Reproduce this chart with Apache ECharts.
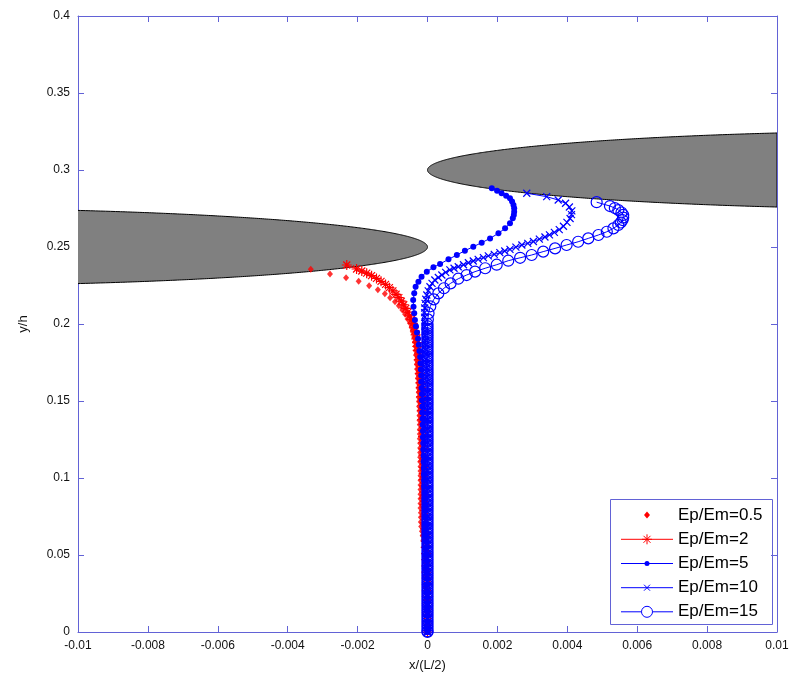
<!DOCTYPE html>
<html>
<head>
<meta charset="utf-8">
<script src="https://cdn.jsdelivr.net/npm/echarts@6/dist/echarts.min.js"></script>
<style>
html, body { margin: 0; padding: 0; background: #fff; }
#chart { width: 793px; height: 679px; }
</style>
</head>
<body>
<div id="chart"></div>
<script>
// ---- axes ----
const xRange = [-0.01, 0.01];
const xStep = 0.002;
const yRange = [0, 0.4];
const yStep = 0.05;
const xTitle = 'x/(L/2)';
const yTitle = 'y/h';

// ---- series names ----
const seriesNames = ['Ep/Em=0.5', 'Ep/Em=2', 'Ep/Em=5', 'Ep/Em=10', 'Ep/Em=15'];

// ---- the two elliptical cracks (centre, half length, half opening) ----
const crackCenterX = [-0.015, 0.015];
const crackCenterY = [0.25, 0.30];
const crackHalfLength = [0.015, 0.015];
const crackHalfOpening = [0.0252, 0.0255];

// ---- crack paths [x, y] ----
const ep05 = [
  [-0.00334,0.2355],[-0.00279,0.2325],[-0.00233,0.2301],[-0.00197,0.2277],[-0.00167,0.2249],[-0.00142,0.2223],
  [-0.00122,0.2197],[-0.00107,0.2171],[-0.00093,0.2145],[-0.00082,0.2119],[-0.00072,0.2091],[-0.00064,0.2063],
  [-0.00057,0.2032],[-0.00050,0.2005],[-0.00045,0.1976],[-0.00041,0.1946],[-0.00038,0.1915],[-0.00036,0.1885],
  [-0.00035,0.1855],[-0.00033,0.1825],[-0.00032,0.1795],[-0.00031,0.1765],[-0.00030,0.1735],[-0.00029,0.1705],
  [-0.00028,0.1675],[-0.00027,0.1645],[-0.00026,0.1615],[-0.00026,0.1585],[-0.00025,0.1555],[-0.00025,0.1525],
  [-0.00024,0.1495],[-0.00024,0.1465],[-0.00023,0.1435],[-0.00023,0.1405],[-0.00023,0.1375],[-0.00022,0.1345],
  [-0.00022,0.1315],[-0.00022,0.1285],[-0.00022,0.1255],[-0.00021,0.1225],[-0.00021,0.1195],[-0.00021,0.1165],
  [-0.00021,0.1135],[-0.00021,0.1105],[-0.00020,0.1075],[-0.00020,0.1045],[-0.00020,0.1015],[-0.00020,0.0985],
  [-0.00020,0.0955],[-0.00020,0.0925],[-0.00020,0.0895],[-0.00020,0.0865],[-0.00020,0.0835],[-0.00020,0.0805],
  [-0.00019,0.0775],[-0.00019,0.0745],[-0.00019,0.0715],[-0.00018,0.0685],[-0.00016,0.0655],[-0.00014,0.0625],
  [-0.00012,0.0595],[-0.00010,0.0550],[-0.00008,0.0500],[-0.00006,0.0450],[-0.00005,0.0400],[-0.00004,0.0350],
  [-0.00003,0.0300],[-0.00002,0.0250],[-0.00002,0.0200],[-0.00001,0.0150],[-0.00001,0.0100],[0,0.0050],[0,0]
];

const ep2 = [
  [-0.00231,0.2383],[-0.00203,0.2357],[-0.00188,0.2344],[-0.00174,0.2330],[-0.00160,0.2314],[-0.00146,0.2296],
  [-0.00133,0.2277],[-0.00120,0.2257],[-0.00109,0.2236],[-0.00099,0.2215],[-0.00090,0.2193],[-0.00082,0.2171],
  [-0.00075,0.2148],[-0.00068,0.2125],[-0.00062,0.2101],[-0.00056,0.2077],[-0.00051,0.2053],[-0.00046,0.2029],
  [-0.00042,0.2004],[-0.00039,0.1979],[-0.00036,0.1954],[-0.00034,0.1929],[-0.00032,0.1904],[-0.00030,0.1879],
  [-0.00029,0.1854],[-0.00028,0.1829],[-0.00026,0.1799],[-0.00025,0.1769],[-0.00024,0.1739],[-0.00023,0.1709],
  [-0.00022,0.1679],[-0.00021,0.1649],[-0.00020,0.1619],[-0.00019,0.1589],[-0.00018,0.1559],[-0.00018,0.1529],
  [-0.00017,0.1499],[-0.00016,0.1469],[-0.00016,0.1439],[-0.00015,0.1409],[-0.00015,0.1379],[-0.00014,0.1349],
  [-0.00014,0.1309],[-0.00013,0.1269],[-0.00013,0.1229],[-0.00012,0.1189],[-0.00012,0.1149],[-0.00012,0.1109],
  [-0.00011,0.1069],[-0.00011,0.1029],[-0.00011,0.0989],[-0.00010,0.0949],[-0.00010,0.0909],[-0.00010,0.0869],
  [-0.00009,0.0829],[-0.00009,0.0789],[-0.00008,0.0749],[-0.00008,0.0709],[-0.00007,0.0669],[-0.00006,0.0629],
  [-0.00005,0.0589],[-0.00005,0.0549],[-0.00004,0.0509],[-0.00004,0.0469],[-0.00003,0.0429],[-0.00003,0.0389],
  [-0.00002,0.0349],[-0.00002,0.0309],[-0.00002,0.0269],[-0.00001,0.0229],[-0.00001,0.0189],[-0.00001,0.0149],
  [0,0.0109],[0,0.0069],[0,0.0029],[0,0]
];

const ep5 = [
  [0.00184,0.2881],[0.00199,0.2866],[0.00212,0.2849],[0.00225,0.2833],[0.00236,0.2816],[0.00242,0.2795],
  [0.00246,0.2773],[0.00248,0.2751],[0.00248,0.2729],[0.00247,0.2707],[0.00244,0.2686],[0.00236,0.2654],
  [0.00222,0.2621],[0.00203,0.2589],[0.00179,0.2556],[0.00155,0.2528],[0.00131,0.2502],[0.00107,0.2476],
  [0.00084,0.2448],[0.00060,0.2420],[0.00036,0.2390],[0.00017,0.2368],[-0.00002,0.2340],[-0.00017,0.2307],
  [-0.00026,0.2275],[-0.00034,0.2242],[-0.00038,0.2199],[-0.00041,0.2156],[-0.00040,0.2112],[-0.00038,0.2069],
  [-0.00036,0.2026],[-0.00033,0.1985],[-0.00030,0.1945],[-0.00027,0.1905],[-0.00025,0.1865],[-0.00023,0.1825],
  [-0.00021,0.1785],[-0.00020,0.1745],[-0.00019,0.1705],[-0.00018,0.1665],[-0.00018,0.1625],[-0.00017,0.1585],
  [-0.00016,0.1545],[-0.00016,0.1505],[-0.00015,0.1465],[-0.00015,0.1425],[-0.00014,0.1385],[-0.00014,0.1345],
  [-0.00013,0.1305],[-0.00013,0.1265],[-0.00012,0.1225],[-0.00012,0.1185],[-0.00011,0.1145],[-0.00011,0.1105],
  [-0.00010,0.1065],[-0.00010,0.1025],[-0.00009,0.0985],[-0.00009,0.0945],[-0.00008,0.0905],[-0.00008,0.0865],
  [-0.00007,0.0825],[-0.00007,0.0785],[-0.00006,0.0745],[-0.00006,0.0705],[-0.00005,0.0665],[-0.00005,0.0625],
  [-0.00004,0.0585],[-0.00004,0.0545],[-0.00003,0.0505],[-0.00003,0.0465],[-0.00003,0.0425],[-0.00002,0.0385],
  [-0.00002,0.0345],[-0.00002,0.0305],[-0.00001,0.0265],[-0.00001,0.0225],[-0.00001,0.0185],[-0.00001,0.0145],
  [0,0.0105],[0,0.0065],[0,0.0025],[0,0]
];

const ep10Branch = [
  [0.00284,0.2849],[0.00341,0.2827],[0.00374,0.2805],[0.00395,0.2784],[0.00406,0.2760],[0.00413,0.2735],
  [0.00412,0.2710],[0.00408,0.2685],[0.00399,0.2660],[0.00389,0.2635],[0.00377,0.2613],[0.00363,0.2595],
  [0.00349,0.2579],[0.00336,0.2565],[0.00320,0.2551],[0.00303,0.2536],[0.00287,0.2524],[0.00270,0.2513],
  [0.00253,0.2499],[0.00236,0.2485],[0.00221,0.2474],[0.00207,0.2463],[0.00191,0.2452],[0.00174,0.2442],
  [0.00160,0.2431],[0.00145,0.2420],[0.00131,0.2409],[0.00117,0.2398],[0.00103,0.2385],[0.00088,0.2372],
  [0.00076,0.2362],[0.00064,0.2351],[0.00052,0.2335],[0.00041,0.2318],[0.00031,0.2302],[0.00021,0.2286],
  [0.00013,0.2264],[0.00007,0.2242],[0.00002,0.2215],[-0.00002,0.2188],[-0.00005,0.2161],[-0.00007,0.2134],
  [-0.00008,0.2104],[-0.00008,0.2074],[-0.00008,0.2044],[-0.00007,0.2014],[-0.00007,0.1984],[-0.00007,0.1954],
  [-0.00006,0.1924],[-0.00006,0.1894],[-0.00005,0.1864],[-0.00005,0.1834],[-0.00004,0.1804],[-0.00004,0.1774],
  [-0.00003,0.1744],[-0.00003,0.1714],[-0.00002,0.1684],[-0.00002,0.1654],[-0.00001,0.1624]
];
// straight part along x = 0
const ep10StemY = [
  0.159,0.156,0.153,0.150,0.147,0.144,0.141,0.138,0.135,0.132,0.129,0.126,0.123,0.120,0.117,0.114,0.111,0.108,
  0.105,0.102,0.099,0.096,0.093,0.090,0.087,0.084,0.081,0.078,0.075,0.072,0.069,0.066,0.063,0.060,0.057,0.054,
  0.051,0.048,0.045,0.042,0.039,0.036,0.033,0.030,0.027,0.024,0.021,0.018,0.015,0.012,0.009,0.006,0.003,0
];

const ep15Branch = [
  [0.00484,0.2791],[0.00522,0.2766],[0.00536,0.2753],[0.00546,0.2740],[0.00555,0.2724],[0.00560,0.2708],
  [0.00560,0.2691],[0.00558,0.2675],[0.00553,0.2659],[0.00546,0.2643],[0.00532,0.2621],[0.00513,0.2599],
  [0.00489,0.2578],[0.00460,0.2556],[0.00431,0.2534],[0.00398,0.2513],[0.00365,0.2491],[0.00331,0.2470],
  [0.00298,0.2448],[0.00265,0.2430],[0.00231,0.2411],[0.00198,0.2385],[0.00165,0.2362],[0.00136,0.2340],
  [0.00112,0.2318],[0.00088,0.2294],[0.00066,0.2264],[0.00047,0.2232],[0.00031,0.2199],[0.00018,0.2160],
  [0.00008,0.2115],[0.00003,0.2070],[0.00001,0.2030]
];
// straight part along x = 0
const ep15StemY = [
  0.2000,0.1985,0.1970,0.1955,0.1940,0.1925,0.1910,0.1895,0.1880,0.1865,0.1850,0.1835,0.1820,0.1805,0.1790,
  0.1775,0.1760,0.1745,0.1730,0.1715,0.1700,0.1685,0.1670,0.1655,0.1640,0.1625,0.1610,0.1595,0.1580,0.1565,
  0.1550,0.1535,0.1520,0.1505,0.1490,0.1475,0.1460,0.1445,0.1430,0.1415,0.1400,0.1385,0.1370,0.1355,0.1340,
  0.1325,0.1310,0.1295,0.1280,0.1265,0.1250,0.1235,0.1220,0.1205,0.1190,0.1175,0.1160,0.1145,0.1130,0.1115,
  0.1100,0.1085,0.1070,0.1055,0.1040,0.1025,0.1010,0.0995,0.0980,0.0965,0.0950,0.0935,0.0920,0.0905,0.0890,
  0.0875,0.0860,0.0845,0.0830,0.0815,0.0800,0.0785,0.0770,0.0755,0.0740,0.0725,0.0710,0.0695,0.0680,0.0665,
  0.0650,0.0635,0.0620,0.0605,0.0590,0.0575,0.0560,0.0545,0.0530,0.0515,0.0500,0.0485,0.0470,0.0455,0.0440,
  0.0425,0.0410,0.0395,0.0380,0.0365,0.0350,0.0335,0.0320,0.0305,0.0290,0.0275,0.0260,0.0245,0.0230,0.0215,
  0.0200,0.0185,0.0170,0.0155,0.0140,0.0125,0.0110,0.0095,0.0080,0.0065,0.0050,0.0035,0.0020,0.0005,0
];

// ---- styling ----
const RED = '#ff0000';
const BLUE = '#0000ff';
const AXIS_COLOR = '#6262d6';
const FONT = '"Liberation Sans", Arial, Helvetica, sans-serif';
const ASTERISK = 'path://M0,5L10,5M5,0L5,10M1.5,1.5L8.5,8.5M8.5,1.5L1.5,8.5';
const CROSS = 'path://M0,0L10,10M10,0L0,10';

const ep10 = ep10Branch.concat(ep10StemY.map(y => [0, y]));
const ep15 = ep15Branch.concat(ep15StemY.map(y => [0, y]));

function tickText(v) {
  const s = String(parseFloat(Number(v).toFixed(4)));
  return s === '-0' ? '0' : s;
}

// Filled elliptical crack, clipped to the visible x range
function renderCrack(params, api) {
  const i = params.dataIndex;
  const xc = crackCenterX[i], yc = crackCenterY[i];
  const a = crackHalfLength[i], b = crackHalfOpening[i];
  const cHi = Math.min(1, (xRange[1] - xc) / a);
  const cLo = Math.max(-1, (xRange[0] - xc) / a);
  const t0 = Math.acos(cHi), t1 = Math.acos(cLo);
  const n = 240;
  const top = [], bottom = [];
  for (let k = 0; k <= n; k++) {
    const t = t0 + (t1 - t0) * k / n;
    const x = xc + a * Math.cos(t);
    const dy = b * Math.sin(t);
    top.push(api.coord([x, yc + dy]));
    bottom.push(api.coord([x, yc - dy]));
  }
  const outline = top.slice().reverse().concat(bottom);
  return {
    type: 'group',
    children: [
      { type: 'polygon', shape: { points: outline }, style: { fill: '#808080', stroke: null } },
      { type: 'polyline', shape: { points: outline }, style: { fill: null, stroke: '#000', lineWidth: 1 } }
    ]
  };
}

function axisCommon(extra) {
  return Object.assign({
    type: 'value',
    axisLine: { show: true, onZero: false, lineStyle: { color: AXIS_COLOR, width: 1 } },
    axisTick: { show: true, inside: true, length: 6, lineStyle: { color: AXIS_COLOR, width: 1 } },
    splitLine: { show: false },
    axisLabel: { show: false }
  }, extra);
}

const labelStyle = { show: true, color: '#111', fontFamily: FONT, fontSize: 12, formatter: tickText,
                     showMinLabel: true, showMaxLabel: true };

// ---- legend drawn as a boxed key ----
const legendX = 610.5, legendY = 499.5, legendW = 162, legendH = 125;
const rowY = [515, 539.3, 563.5, 587.7, 611.8];
const lineX0 = 621, lineX1 = 673, markX = 647, textX = 678;
const legendChildren = [
  { type: 'rect', shape: { x: legendX, y: legendY, width: legendW, height: legendH },
    style: { fill: '#fff', stroke: AXIS_COLOR, lineWidth: 1 } }
];
const rowColors = [RED, RED, BLUE, BLUE, BLUE];
function seg(x1, y1, x2, y2, color) {
  return { type: 'line', shape: { x1: x1, y1: y1, x2: x2, y2: y2 }, style: { stroke: color, lineWidth: 1 } };
}
rowY.forEach((y, i) => {
  if (i > 0) legendChildren.push(seg(lineX0, y, lineX1, y, rowColors[i]));
  legendChildren.push({ type: 'text', x: textX, y: y,
    style: { text: seriesNames[i], font: '17px ' + FONT, fill: '#000', align: 'left', verticalAlign: 'middle' } });
});
legendChildren.push({ type: 'polygon',
  shape: { points: [[markX, rowY[0] - 3.5], [markX + 3, rowY[0]], [markX, rowY[0] + 3.5], [markX - 3, rowY[0]]] },
  style: { fill: RED } });
// asterisk
legendChildren.push(seg(markX - 5, rowY[1], markX + 5, rowY[1], RED));
legendChildren.push(seg(markX, rowY[1] - 5, markX, rowY[1] + 5, RED));
legendChildren.push(seg(markX - 3.5, rowY[1] - 3.5, markX + 3.5, rowY[1] + 3.5, RED));
legendChildren.push(seg(markX + 3.5, rowY[1] - 3.5, markX - 3.5, rowY[1] + 3.5, RED));
// dot
legendChildren.push({ type: 'circle', shape: { cx: markX, cy: rowY[2], r: 2.5 }, style: { fill: BLUE } });
// cross
legendChildren.push(seg(markX - 3, rowY[3] - 3, markX + 3, rowY[3] + 3, BLUE));
legendChildren.push(seg(markX + 3, rowY[3] - 3, markX - 3, rowY[3] + 3, BLUE));
// circle
legendChildren.push({ type: 'circle', shape: { cx: markX, cy: rowY[4], r: 5.5 },
  style: { fill: '#fff', stroke: BLUE, lineWidth: 1 } });

const chart = echarts.init(document.getElementById('chart'), null, { renderer: 'canvas' });
chart.setOption({
  animation: false,
  backgroundColor: '#fff',
  grid: { left: 78, top: 16, width: 699, height: 616, containLabel: false, outerBoundsMode: 'none' },
  xAxis: [
    axisCommon({ position: 'bottom', min: xRange[0], max: xRange[1], interval: xStep,
      axisLabel: Object.assign({ margin: 8 }, labelStyle),
      name: xTitle, nameLocation: 'middle', nameGap: 27,
      nameTextStyle: { color: '#111', fontFamily: FONT, fontSize: 13 } }),
    axisCommon({ position: 'top', min: xRange[0], max: xRange[1], interval: xStep })
  ],
  yAxis: [
    axisCommon({ position: 'left', min: yRange[0], max: yRange[1], interval: yStep,
      axisLabel: Object.assign({ margin: 8 }, labelStyle),
      name: yTitle, nameLocation: 'middle', nameGap: 48,
      nameTextStyle: { color: '#111', fontFamily: FONT, fontSize: 13 } }),
    axisCommon({ position: 'right', min: yRange[0], max: yRange[1], interval: yStep })
  ],
  graphic: [{ type: 'group', z: 100, children: legendChildren }],
  series: [
    {
      type: 'custom', name: 'cracks', clip: true, silent: true,
      data: crackCenterX.map((x, i) => [x, crackCenterY[i]]),
      renderItem: renderCrack, z: 1
    },
    {
      type: 'scatter', name: seriesNames[0], data: ep05, symbol: 'diamond', symbolSize: [6, 7],
      itemStyle: { color: RED }, silent: true, z: 2
    },
    {
      type: 'line', name: seriesNames[1], data: ep2, symbol: ASTERISK, symbolSize: 10, showAllSymbol: true,
      lineStyle: { color: RED, width: 1 }, itemStyle: { color: RED, borderColor: RED, borderWidth: 1.2 },
      silent: true, z: 2
    },
    {
      type: 'line', name: seriesNames[2], data: ep5, symbol: 'circle', symbolSize: 6, showAllSymbol: true,
      lineStyle: { color: BLUE, width: 1 }, itemStyle: { color: BLUE, borderWidth: 0 },
      silent: true, z: 2
    },
    {
      type: 'line', name: seriesNames[3], data: ep10, symbol: CROSS, symbolSize: 7, showAllSymbol: true,
      lineStyle: { color: BLUE, width: 1 }, itemStyle: { color: BLUE, borderColor: BLUE, borderWidth: 1.2 },
      silent: true, z: 2
    },
    {
      type: 'line', name: seriesNames[4], data: ep15, symbol: 'circle', symbolSize: 11, showAllSymbol: true,
      lineStyle: { color: BLUE, width: 1 },
      itemStyle: { color: 'rgba(0,0,0,0)', borderColor: BLUE, borderWidth: 1.2 },
      silent: true, z: 2
    }
  ]
});
</script>
</body>
</html>
